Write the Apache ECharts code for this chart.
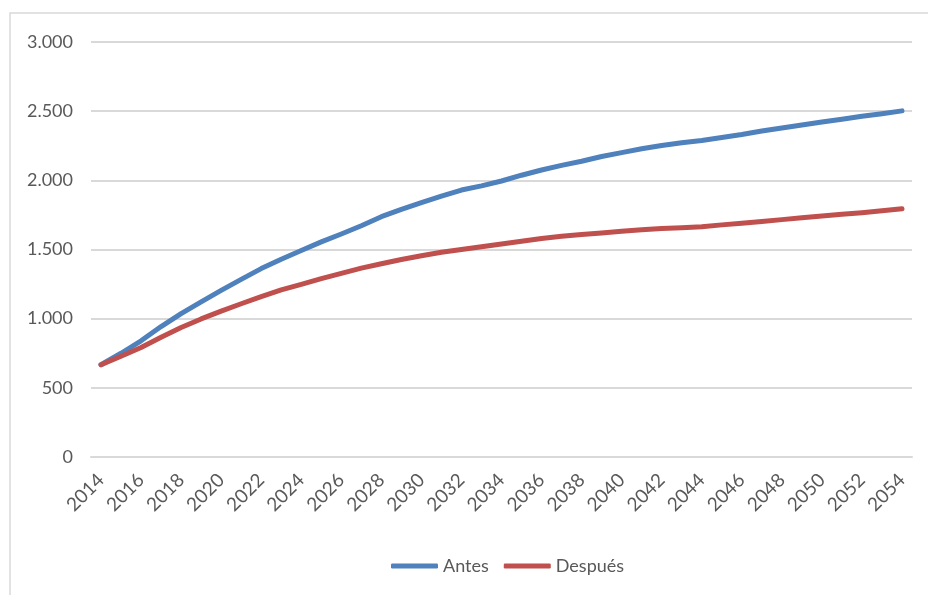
<!DOCTYPE html>
<html>
<head>
<meta charset="utf-8">
<script src="https://cdn.jsdelivr.net/npm/echarts@6/dist/echarts.min.js"></script>
<style>
html,body{margin:0;padding:0;background:#fff;}
#chart{width:928px;height:595px;}
</style>
</head>
<body>
<div id="chart"></div>
<script>
const years = [2014,2015,2016,2017,2018,2019,2020,2021,2022,2023,2024,2025,2026,2027,2028,2029,2030,2031,2032,2033,2034,2035,2036,2037,2038,2039,2040,2041,2042,2043,2044,2045,2046,2047,2048,2049,2050,2051,2052,2053,2054];
const antes = [667,750,840,943,1037,1122,1205,1284,1362,1430,1493,1555,1612,1672,1737,1790,1838,1885,1930,1960,1995,2037,2075,2108,2138,2172,2200,2228,2252,2272,2288,2310,2331,2356,2378,2400,2422,2442,2463,2482,2502];
const despues = [667,728,792,866,936,998,1055,1108,1160,1208,1248,1290,1328,1365,1397,1428,1455,1480,1500,1520,1540,1560,1580,1595,1608,1620,1632,1642,1652,1658,1664,1678,1690,1703,1716,1730,1742,1754,1766,1780,1795];
const seriesNames = ['Antes','Después'];
const yTicks = [0,500,1000,1500,2000,2500,3000];

const FONT = "Lato, 'Liberation Sans', sans-serif";
function fmt(v){ return String(v).replace(/\B(?=(\d{3})+(?!\d))/g,'.'); }

const chart = echarts.init(document.getElementById('chart'), null, {renderer:'canvas'});
chart.setOption({
  animation:false,
  backgroundColor:'#ffffff',
  graphic:[{
    type:'rect', silent:true, z:-10,
    shape:{x:10,y:13,width:940,height:620},
    style:{fill:'none',stroke:'#d9d9d9',lineWidth:1.5}
  }],
  grid:{left:91,right:16,top:42,bottom:138,containLabel:false},
  legend:{
    data:seriesNames,
    left:386, top:552,
    icon:'roundRect',
    itemWidth:47, itemHeight:5, itemGap:15,
    textStyle:{fontFamily:FONT,fontSize:18,color:'#595959'}
  },
  xAxis:{
    type:'category',
    data:years.map(String),
    boundaryGap:true,
    axisLine:{show:true,lineStyle:{color:'#d9d9d9',width:2}},
    axisTick:{show:false},
    axisLabel:{interval:1,rotate:45,margin:20,fontFamily:FONT,fontSize:19,color:'#595959'}
  },
  yAxis:{
    type:'value',
    min:yTicks[0], max:yTicks[yTicks.length-1], interval:500,
    axisLine:{show:false},
    axisTick:{show:false},
    splitLine:{show:true,lineStyle:{color:'#d9d9d9',width:2}},
    axisLabel:{margin:18,fontFamily:FONT,fontSize:18,color:'#595959',formatter:fmt}
  },
  series:[
    {name:seriesNames[0],type:'line',data:antes,showSymbol:false,symbol:'none',smooth:false,
     itemStyle:{color:'#4f81bd'},lineStyle:{color:'#4f81bd',width:5,cap:'round',join:'round'}},
    {name:seriesNames[1],type:'line',data:despues,showSymbol:false,symbol:'none',smooth:false,
     itemStyle:{color:'#c0504d'},lineStyle:{color:'#c0504d',width:5,cap:'round',join:'round'}}
  ]
});
</script>
</body>
</html>
